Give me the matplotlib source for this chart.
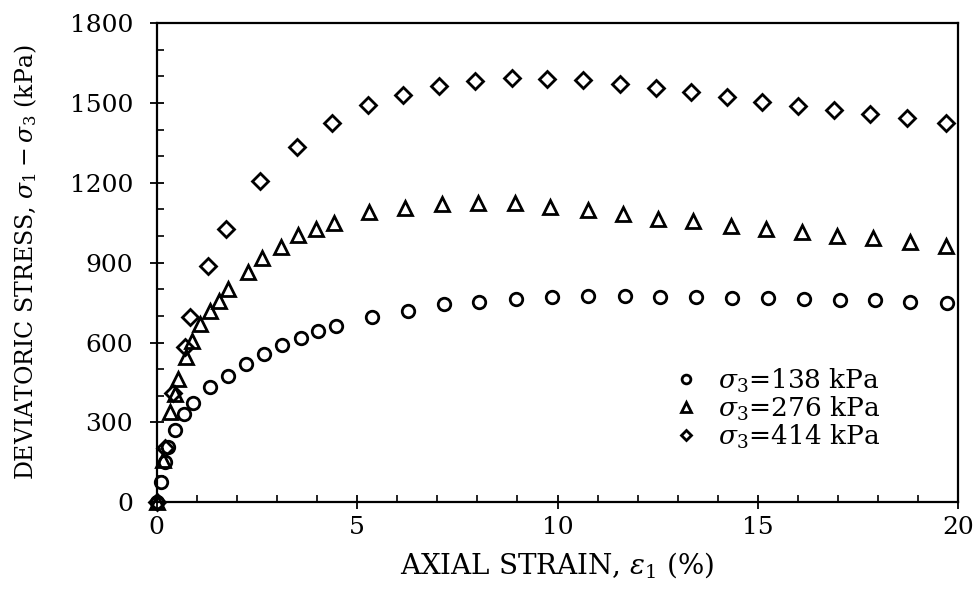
import matplotlib
matplotlib.use("Agg")
import matplotlib.pyplot as plt
from matplotlib.ticker import MultipleLocator

plt.rcParams['font.family'] = ['DejaVu Serif']
plt.rcParams['mathtext.fontset'] = 'dejavuserif'

# sigma3 = 138 kPa
strain_138 = [0.0, 0.12, 0.22, 0.28, 0.47, 0.69, 0.91, 1.34, 1.78, 2.23, 2.68, 3.13, 3.59,
              4.03, 4.47, 5.36, 6.26, 7.16, 8.05, 8.97, 9.87, 10.76, 11.68, 12.55, 13.45,
              14.34, 15.26, 16.15, 17.05, 17.93, 18.8, 19.72]
stress_138 = [0, 76, 151, 207, 270, 330, 372, 432, 476, 520, 558, 589, 617,
              643, 661, 697, 720, 745, 751, 764, 772, 776, 774, 772, 770,
              768, 766, 764, 761, 758, 754, 747]

# sigma3 = 276 kPa
strain_276 = [0.0, 0.17, 0.34, 0.45, 0.53, 0.72, 0.88, 1.08, 1.33, 1.55, 1.78, 2.28, 2.63,
              3.09, 3.53, 3.97, 4.43, 5.3, 6.2, 7.12, 8.01, 8.93, 9.82, 10.76, 11.63,
              12.51, 13.38, 14.32, 15.2, 16.09, 16.98, 17.88, 18.78, 19.68]
stress_276 = [0, 157, 339, 408, 464, 547, 607, 670, 720, 757, 801, 864, 918,
              960, 1005, 1026, 1051, 1089, 1107, 1122, 1126, 1126, 1110, 1097, 1083,
              1064, 1055, 1039, 1026, 1016, 1001, 993, 976, 964]

# sigma3 = 414 kPa
strain_414 = [0.0, 0.2, 0.4, 0.7, 0.84, 1.28, 1.72, 2.59, 3.49, 4.37, 5.26, 6.15, 7.05,
              7.95, 8.86, 9.74, 10.63, 11.55, 12.45, 13.34, 14.23, 15.09, 16.01, 16.9,
              17.8, 18.72, 19.68]
stress_414 = [0, 205, 410, 582, 695, 889, 1026, 1208, 1336, 1426, 1493, 1532, 1564,
              1583, 1593, 1591, 1586, 1573, 1558, 1542, 1522, 1505, 1489, 1473,
              1458, 1443, 1426]

labels = [r'$\sigma_3$=138 kPa', r'$\sigma_3$=276 kPa', r'$\sigma_3$=414 kPa']

fig = plt.figure(figsize=(9.79, 5.95), dpi=100)
ax = fig.add_axes([0.160, 0.156, 0.819, 0.805])

mk = dict(linestyle='none', markerfacecolor='none', markeredgecolor='black',
          markeredgewidth=2.0, clip_on=False)
ax.plot(strain_138, stress_138, marker='o', markersize=9, label=labels[0], **mk)
ax.plot(strain_276, stress_276, marker='^', markersize=9.5, label=labels[1], **mk)
ax.plot(strain_414, stress_414, marker='D', markersize=8, label=labels[2], **mk)

ax.set_xlim(0, 20)
ax.set_ylim(0, 1800)
ax.xaxis.set_major_locator(MultipleLocator(5))
ax.xaxis.set_minor_locator(MultipleLocator(1))
ax.yaxis.set_major_locator(MultipleLocator(300))
ax.yaxis.set_minor_locator(MultipleLocator(100))
ax.tick_params(which='major', direction='inout', length=10, width=1.3, labelsize=18)
ax.tick_params(which='minor', direction='in', length=5, width=1.2)
ax.tick_params(axis='x', which='major', pad=5)
ax.tick_params(axis='y', which='major', pad=12)
for s in ax.spines.values():
    s.set_linewidth(1.6)

ax.set_xlabel(r'AXIAL STRAIN, $\epsilon_1$ (%)', fontsize=20, labelpad=8)
ax.set_ylabel(r'DEVIATORIC STRESS, $\sigma_1 - \sigma_3$ (kPa)', fontsize=17, labelpad=22)

ax.legend(loc='lower right', bbox_to_anchor=(0.915, 0.085), frameon=False, fontsize=19,
          markerscale=0.7, handletextpad=0.6, labelspacing=0.0, handlelength=1.2,
          borderaxespad=0)

fig.savefig('out.png', dpi=100)
